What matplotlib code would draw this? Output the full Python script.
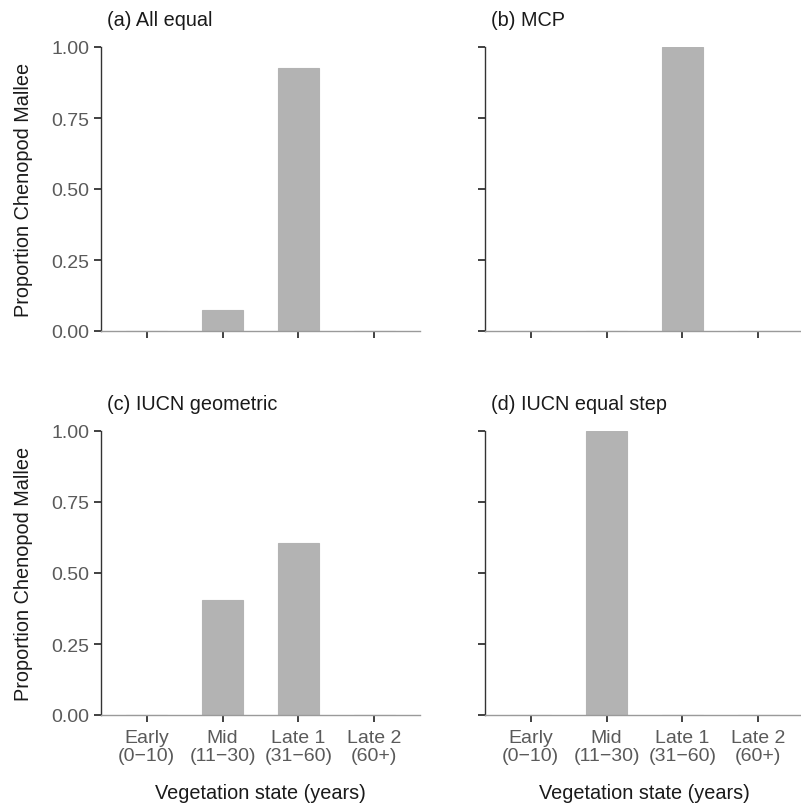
import numpy as np
import matplotlib
matplotlib.use("Agg")
import matplotlib.pyplot as plt

plt.rcParams['font.family'] = ['Liberation Sans', 'DejaVu Sans']

# data
states = ["Early\n(0\u221210)", "Mid\n(11\u221230)", "Late 1\n(31\u221260)", "Late 2\n(60+)"]
titles = ["(a) All equal", "(b) MCP", "(c) IUCN geometric", "(d) IUCN equal step"]
all_equal = [0.0, 0.075, 0.925, 0.0]
mcp = [0.0, 0.0, 1.0, 0.0]
iucn_geometric = [0.0, 0.405, 0.605, 0.0]
iucn_equal_step = [0.0, 1.0, 0.0, 0.0]
yticks = [0.0, 0.25, 0.5, 0.75, 1.0]
ytick_labels = ["0.00", "0.25", "0.50", "0.75", "1.00"]

panels = [all_equal, mcp, iucn_geometric, iucn_equal_step]

W, H = 801, 812
fig = plt.figure(figsize=(W / 100, H / 100), dpi=100)

# axes boxes in pixels: left, top-of-axes (from figure top)
boxes = [(101, 48), (485, 48), (101, 432), (485, 432)]
aw, ah = 319, 284

bar_col = "#b3b3b3"
tick_col = "#5a5a5a"
x = np.arange(1, 5)

for i, (vals, title, (lx, ty)) in enumerate(zip(panels, titles, boxes)):
    ax = fig.add_axes([lx / W, 1 - (ty + ah) / H, aw / W, ah / H])
    ax.bar(x, vals, width=0.54, color=bar_col, edgecolor=bar_col, linewidth=0.8)
    ax.set_xlim(0.4, 4.6)
    ax.set_ylim(0, 1)
    for s in ["top", "right"]:
        ax.spines[s].set_visible(False)
    ax.spines["left"].set_color("#333333")
    ax.spines["left"].set_linewidth(1.0)
    ax.spines["bottom"].set_color("#9a9a9a")
    ax.spines["bottom"].set_linewidth(1.0)
    ax.tick_params(axis="both", length=5, width=1.3, color="#333333",
                   labelcolor=tick_col, labelsize=14)
    ax.tick_params(axis="x", pad=5)
    ax.set_xticks(x)
    ax.set_yticks(yticks)
    if i % 2 == 0:
        ax.set_yticklabels(ytick_labels)
        ax.set_ylabel("Proportion Chenopod Mallee", fontsize=14.3, color="#1a1a1a", labelpad=13)
    else:
        ax.set_yticklabels([])
    if i >= 2:
        ax.set_xticklabels(states, linespacing=1.05)
        ax.set_xlabel("Vegetation state (years)", fontsize=14.3, color="#1a1a1a", labelpad=14)
    else:
        ax.set_xticklabels([])
    ax.set_title(title, loc="left", fontsize=14.3, color="#1a1a1a", pad=16, x=0.02)

fig.savefig("out.png", dpi=100)
